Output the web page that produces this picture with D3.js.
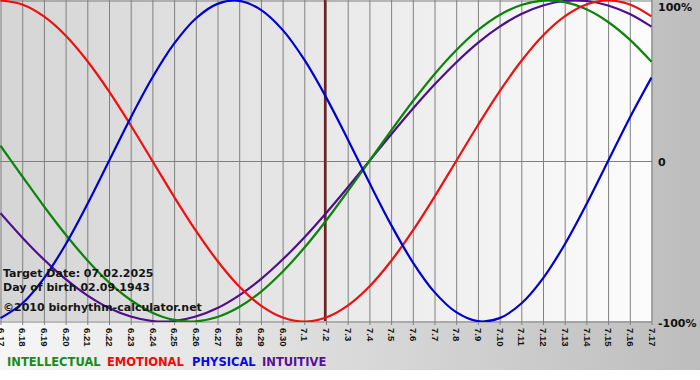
<!DOCTYPE html>
<html><head><meta charset="utf-8">
<script src="https://cdn.jsdelivr.net/npm/d3@7/dist/d3.min.js"></script>
<style>html,body{margin:0;padding:0;background:#fff}svg{display:block}</style>
</head><body><svg id="c" width="700" height="380"></svg>
<script>
const days = ["6.17","6.18","6.19","6.20","6.21","6.22","6.23","6.24","6.25","6.26","6.27","6.28","6.29","6.30","7.1","7.2","7.3","7.4","7.5","7.6","7.7","7.8","7.9","7.10","7.11","7.12","7.13","7.14","7.15","7.16","7.17"];
const physical = [-0.979,-0.888,-0.731,-0.520,-0.270,0,0.270,0.520,0.731,0.888,0.979,0.998,0.942,0.817,0.631,0.398,0.136,-0.136,-0.398,-0.631,-0.817,-0.942,-0.998,-0.979,-0.888,-0.731,-0.520,-0.270,0,0.270,0.520];
const emotional = [1,0.975,0.901,0.782,0.623,0.434,0.223,0,-0.223,-0.434,-0.623,-0.782,-0.901,-0.975,-1,-0.975,-0.901,-0.782,-0.623,-0.434,-0.223,0,0.223,0.434,0.623,0.782,0.901,0.975,1,0.975,0.901];
const intellectual = [0.095,-0.095,-0.282,-0.458,-0.618,-0.756,-0.866,-0.945,-0.990,-0.999,-0.972,-0.910,-0.815,-0.690,-0.541,-0.372,-0.189,0,0.189,0.372,0.541,0.690,0.815,0.910,0.972,0.999,0.990,0.945,0.866,0.756,0.618];
const intuitive = [-0.325,-0.476,-0.614,-0.736,-0.837,-0.916,-0.969,-0.997,-0.997,-0.969,-0.916,-0.837,-0.736,-0.614,-0.476,-0.325,-0.165,0,0.165,0.325,0.476,0.614,0.736,0.837,0.916,0.969,0.997,0.997,0.969,0.916,0.837];
const yTicks = [1, 0, -1];
const yTickLabels = ["100%", "0", "-100%"];
const targetDay = "7.2";
const infoLines = ["Target Date: 07.02.2025", "Day of birth 02.09.1943", "\u00a92010 biorhythm-calculator.net"];
const legendNames = ["INTELLECTUAL", "EMOTIONAL", "PHYSICAL", "INTUITIVE"];

const svg = d3.select("#c");
const W = 651, H = 321;
const defs = svg.append("defs");
const g1 = defs.append("linearGradient").attr("id","bg").attr("x1","0").attr("x2","1").attr("y1","0").attr("y2","0");
g1.append("stop").attr("offset","0").attr("stop-color","#f6f6f6");
g1.append("stop").attr("offset","1").attr("stop-color","#bdbdbd");
const g2 = defs.append("linearGradient").attr("id","pg").attr("x1","0").attr("x2","1").attr("y1","0").attr("y2","0");
g2.append("stop").attr("offset","0").attr("stop-color","#d5d5d5");
g2.append("stop").attr("offset","1").attr("stop-color","#fcfcfc");
defs.append("clipPath").attr("id","clip").append("rect").attr("x",0).attr("y",0).attr("width",W+1).attr("height",H+1);

svg.append("rect").attr("width",700).attr("height",370).attr("fill","url(#bg)");
svg.append("rect").attr("width",W).attr("height",H).attr("fill","url(#pg)");

const x = d3.scalePoint().domain(days).range([0.5, W + 0.5]);
const y = d3.scaleLinear().domain([-1, 1]).range([H + 0.5, 0.5]);

// x axis with grid lines
const xa = svg.append("g").attr("transform", `translate(0,${H + 4})`)
  .call(d3.axisBottom(x).tickSize(-(H + 4)).tickSizeOuter(0));
xa.select(".domain").remove();
xa.selectAll(".tick line").attr("stroke","#808080").attr("stroke-width",1);
xa.selectAll(".tick text")
  .attr("transform","rotate(90)")
  .attr("x", 3).attr("y", 0).attr("dy","0.35em")
  .attr("text-anchor","start")
  .attr("font-family","'Liberation Sans', Arial, sans-serif")
  .attr("font-weight","bold").attr("font-size","9.5px").attr("fill","#111");

// y axis with grid lines
const ya = svg.append("g").attr("transform", `translate(${W},0)`)
  .call(d3.axisRight(y).tickValues(yTicks).tickFormat((d,i)=>yTickLabels[i]).tickSize(-W).tickSizeOuter(0));
ya.select(".domain").remove();
ya.selectAll(".tick line").attr("stroke","#808080").attr("stroke-width",1).attr("x2", 1).attr("x1", -W);
ya.selectAll(".tick text")
  .attr("x", 7).attr("dy", (d)=> d===1 ? "0.9em" : "0.45em")
  .attr("font-family","'DejaVu Sans', Verdana, sans-serif")
  .attr("font-weight","bold").attr("font-size","11px").attr("fill","#111");

// target marker
svg.append("line").attr("x1", x(targetDay)-1).attr("x2", x(targetDay)-1)
  .attr("y1", 0).attr("y2", H).attr("stroke","#7d1c1c").attr("stroke-width",2.2);

const series = [
  {name:"INTELLECTUAL", vals:intellectual, color:"#0c840c"},
  {name:"EMOTIONAL", vals:emotional, color:"#ee1010"},
  {name:"PHYSICAL", vals:physical, color:"#0000d0"},
  {name:"INTUITIVE", vals:intuitive, color:"#4e0f8c"}
];
const line = d3.line().x((d,i)=>x(days[i])).y(d=>y(d)).curve(d3.curveCatmullRom.alpha(0.5));
const lg = svg.append("g").attr("clip-path","url(#clip)");
[series[3], series[0], series[1], series[2]].forEach(s=>{
  lg.append("path").datum(s.vals).attr("d", line).attr("fill","none")
    .attr("stroke", s.color).attr("stroke-width", 2.2).attr("stroke-linejoin","round");
});

// info text
const infoY = [276.5, 290.5, 310.5];
svg.append("g").selectAll("text").data(infoLines).join("text")
  .attr("x", 3).attr("y", (d,i)=>infoY[i]).text(d=>d)
  .attr("font-family","'DejaVu Sans', Verdana, sans-serif")
  .attr("font-weight","bold").attr("font-size","11px").attr("fill","#151515");

// legend
const legendColors = ["#1b8a1b","#ee0a0a","#0a0ae0","#55109a"];
const legendX = [7, 107, 192, 262];
svg.append("g").selectAll("text").data(legendNames).join("text")
  .attr("x", (d,i)=>legendX[i]).attr("y", 366).text(d=>d)
  .attr("font-family","'DejaVu Sans', Verdana, sans-serif")
  .attr("font-weight","bold").attr("font-size","11.5px").attr("fill", (d,i)=>legendColors[i]);
</script></body></html>
